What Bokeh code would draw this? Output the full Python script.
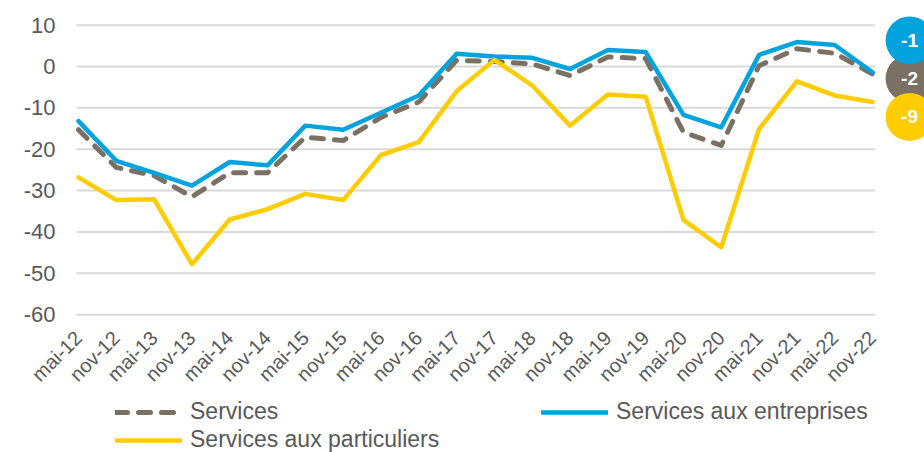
import math
from bokeh.plotting import figure
from bokeh.models import Range1d, FixedTicker, Legend, LegendItem, ColumnDataSource
from bokeh.embed import file_html
from bokeh.resources import INLINE
from bokeh.core.properties import value

periods = ["mai-12", "nov-12", "mai-13", "nov-13", "mai-14", "nov-14", "mai-15", "nov-15",
           "mai-16", "nov-16", "mai-17", "nov-17", "mai-18", "nov-18", "mai-19", "nov-19",
           "mai-20", "nov-20", "mai-21", "nov-21", "mai-22", "nov-22"]
services = [-15.3, -24.4, -26.4, -31.5, -25.7, -25.7, -17.1, -17.9, -12.3, -8.6, 1.5,
            1.2, 0.6, -2.2, 2.3, 1.9, -15.9, -19.1, 0.2, 4.3, 3.2, -1.8]
entreprises = [-13.2, -22.8, -25.7, -28.8, -23.1, -23.9, -14.3, -15.3, -11.2, -7.0, 3.1,
               2.4, 2.1, -0.6, 4.0, 3.5, -11.7, -14.7, 2.8, 5.9, 5.2, -1.4]
particuliers = [-26.8, -32.3, -32.1, -47.8, -37.0, -34.5, -30.8, -32.3, -21.4, -18.3, -6.0,
                1.6, -4.6, -14.3, -6.8, -7.3, -37.1, -43.7, -15.1, -3.6, -7.0, -8.6]
y_ticks = [-60, -50, -40, -30, -20, -10, 0, 10]
y_tick_labels = ["-60", "-50", "-40", "-30", "-20", "-10", "0", "10"]
series_names = ["Services", "Services aux entreprises", "Services aux particuliers"]
# vertical placement of the end-of-line badges (label positions, in axis units)
badge_y = [-2.9, 6.3, -12.2]

GRAY = "#7A7064"
BLUE = "#00A3DD"
YELLOW = "#FFCC00"
GRID = "#D9D9D9"
TXT = "#595959"
FONT = "Liberation Sans"

xs = list(range(len(periods)))
AXIS_Y = -60.44   # where the category axis is drawn (just under the lowest gridline)
AXIS_X = -0.053   # where the value axis is drawn (left end of the gridlines)

p = figure(frame_width=916, frame_height=444, output_backend="svg", toolbar_location=None,
           x_range=Range1d(-1.851, 22.375), y_range=Range1d(-93.33, 14.02),
           min_border_left=8, min_border_right=0, min_border_top=8, min_border_bottom=0)
p.outline_line_color = None
p.background_fill_color = "white"
p.xgrid.visible = False
p.ygrid.visible = False

# horizontal gridlines, ending a little past the last category
p.segment(x0=[AXIS_X] * len(y_ticks), x1=[len(periods) - 1 + 0.07] * len(y_ticks),
          y0=y_ticks, y1=y_ticks, line_color=GRID, line_width=2)

r_serv = p.line(xs, services, line_color=GRAY, line_width=5, line_dash="12 11",
                line_cap="round", line_join="round")
r_ent = p.line(xs, entreprises, line_color=BLUE, line_width=4.5, line_join="round",
               line_cap="round")
r_part = p.line(xs, particuliers, line_color=YELLOW, line_width=4.5, line_join="round",
                line_cap="round")

# badges with last values
last_vals = [services[-1], entreprises[-1], particuliers[-1]]
bx = len(periods) - 1 + 0.98
badge_src = ColumnDataSource(dict(
    x=[bx] * 3, y=badge_y, color=[GRAY, BLUE, YELLOW],
    txt=["%d" % round(v) for v in last_vals]))
p.scatter("x", "y", source=badge_src, size=48, fill_color="color", line_color=None)
p.text("x", "y", text="txt", source=badge_src, text_color="white", text_align="center",
       text_baseline="middle", text_font=value(FONT), text_font_style="bold",
       text_font_size="19px")

# axes
p.xaxis.fixed_location = AXIS_Y
p.xaxis.ticker = FixedTicker(ticks=xs)
p.xaxis.major_label_overrides = {i: lab for i, lab in enumerate(periods)}
p.xaxis.major_label_orientation = math.pi / 4
p.xaxis.major_label_text_font = FONT
p.xaxis.major_label_text_font_size = "20px"
p.xaxis.major_label_text_color = TXT
p.xaxis.axis_line_color = None
p.xaxis.major_tick_line_color = None
p.xaxis.minor_tick_line_color = None
p.xaxis.major_tick_out = 0
p.xaxis.major_tick_in = 0
p.xaxis.major_label_standoff = 18

p.yaxis.fixed_location = AXIS_X
p.yaxis.ticker = FixedTicker(ticks=y_ticks)
p.yaxis.major_label_overrides = {t: lab for t, lab in zip(y_ticks, y_tick_labels)}
p.yaxis.major_label_text_font = FONT
p.yaxis.major_label_text_font_size = "22px"
p.yaxis.major_label_text_color = TXT
p.yaxis.axis_line_color = None
p.yaxis.major_tick_line_color = None
p.yaxis.minor_tick_line_color = None
p.yaxis.major_tick_out = 0
p.yaxis.major_tick_in = 0
p.yaxis.major_label_standoff = 21

legend = Legend(items=[LegendItem(label=series_names[0], renderers=[r_serv]),
                       LegendItem(label=series_names[1], renderers=[r_ent]),
                       LegendItem(label=series_names[2], renderers=[r_part])],
                location=(107, -1), orientation="horizontal", ncols=2, spacing=1,
                padding=0, margin=0, border_line_color=None, background_fill_alpha=0,
                glyph_width=67, glyph_height=24, label_height=24, label_width=350,
                label_standoff=8, label_text_font=FONT, label_text_font_size="23px",
                label_text_color=TXT)
p.add_layout(legend)

open("out.html", "w").write(file_html(p, INLINE))
